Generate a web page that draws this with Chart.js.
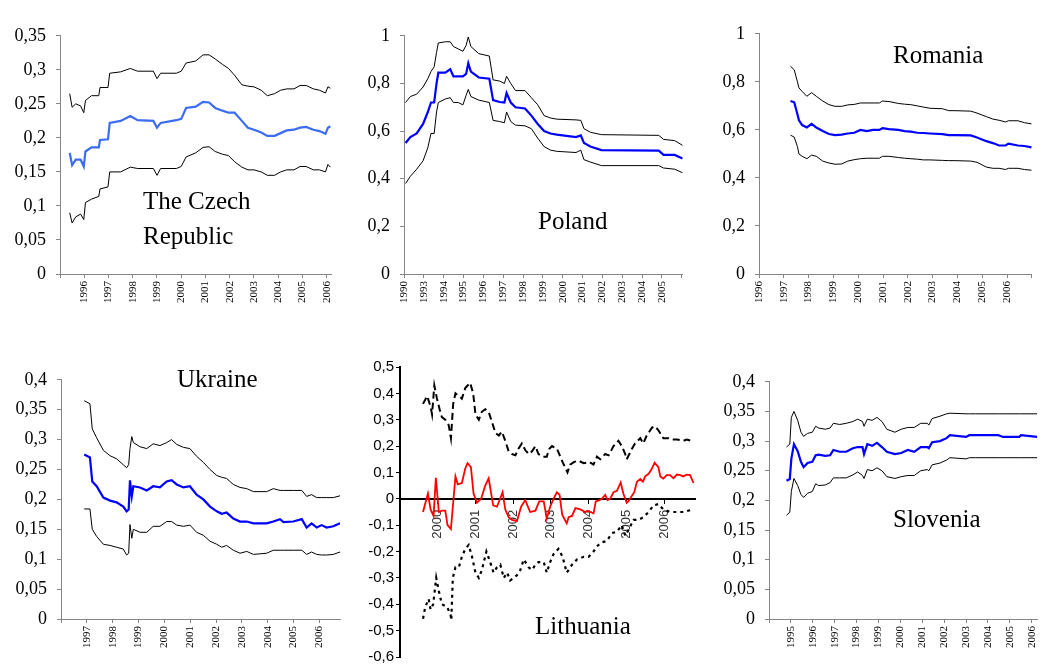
<!DOCTYPE html>
<html>
<head>
<meta charset="utf-8">
<script src="https://cdn.jsdelivr.net/npm/chart.js@4.4.1/dist/chart.umd.min.js"></script>
<style>
  body { margin: 0; background: #fff; }
  #wrap { position: relative; width: 1048px; height: 669px; overflow: hidden; }
  canvas { position: absolute; }
  .ttl { position: absolute; font-family: 'Liberation Serif', 'Times New Roman', serif; font-size: 25px; line-height: 25px; color: #000; white-space: nowrap; }
</style>
</head>
<body>
<div id="wrap">
  <canvas id="cz" width="343" height="319" style="left:0px;top:15px"></canvas>
  <canvas id="pl" width="348" height="319" style="left:350px;top:15px"></canvas>
  <canvas id="ro" width="348" height="321" style="left:700px;top:13px"></canvas>
  <canvas id="ua" width="345" height="308" style="left:0px;top:359px"></canvas>
  <canvas id="lt" width="350" height="312" style="left:350px;top:356px"></canvas>
  <canvas id="si" width="348" height="306" style="left:700px;top:361px"></canvas>

  <div class="ttl" style="left:143px;top:183px;line-height:35px">The Czech<br>Republic</div>
  <div class="ttl" style="left:538px;top:208px">Poland</div>
  <div class="ttl" style="left:893px;top:42px">Romania</div>
  <div class="ttl" style="left:177px;top:366px">Ukraine</div>
  <div class="ttl" style="left:535px;top:613px">Lithuania</div>
  <div class="ttl" style="left:893px;top:506px">Slovenia</div>
</div>
<script>
// ---- The Czech Republic ----
let czDates = [1995.4, 1995.5, 1995.65, 1995.85, 1995.98, 1996.05, 1996.3, 1996.6, 1996.65, 1996.98, 1997.05, 1997.5, 1997.9, 1998.2, 1998.85, 1999.0, 1999.15, 1999.8, 2000.0, 2000.2, 2000.6, 2000.9, 2001.15, 2001.4, 2001.7, 2001.95, 2002.2, 2002.5, 2002.75, 2003.0, 2003.3, 2003.55, 2003.85, 2004.1, 2004.35, 2004.65, 2004.9, 2005.15, 2005.45, 2005.7, 2005.95, 2006.05, 2006.15];
let czMid = [0.178, 0.16, 0.168, 0.168, 0.158, 0.18, 0.186, 0.186, 0.197, 0.198, 0.222, 0.225, 0.232, 0.226, 0.225, 0.215, 0.222, 0.226, 0.228, 0.244, 0.246, 0.253, 0.252, 0.244, 0.24, 0.237, 0.237, 0.225, 0.215, 0.212, 0.208, 0.203, 0.203, 0.207, 0.211, 0.212, 0.215, 0.216, 0.212, 0.21, 0.206, 0.215, 0.217];
let czUpper = [0.265, 0.245, 0.25, 0.247, 0.237, 0.255, 0.262, 0.262, 0.274, 0.274, 0.295, 0.297, 0.302, 0.298, 0.298, 0.287, 0.295, 0.295, 0.298, 0.31, 0.313, 0.322, 0.322, 0.316, 0.308, 0.302, 0.292, 0.278, 0.276, 0.275, 0.27, 0.262, 0.265, 0.27, 0.272, 0.272, 0.277, 0.277, 0.272, 0.27, 0.266, 0.275, 0.273];
let czLower = [0.09, 0.075, 0.084, 0.088, 0.08, 0.105, 0.11, 0.114, 0.125, 0.128, 0.15, 0.15, 0.157, 0.155, 0.155, 0.145, 0.155, 0.155, 0.158, 0.172, 0.178, 0.186, 0.187, 0.18, 0.176, 0.174, 0.165, 0.157, 0.153, 0.153, 0.15, 0.145, 0.145, 0.15, 0.153, 0.153, 0.158, 0.158, 0.153, 0.153, 0.15, 0.161, 0.157];
let czTicks = [1995, 1996, 1997, 1998, 1999, 2000, 2001, 2002, 2003, 2004, 2005, 2006];
let czTickLabels = ['', '1996', '1997', '1998', '1999', '2000', '2001', '2002', '2003', '2004', '2005', '2006'];

// ---- Poland (category axis positions, first label reads 1990) ----
let plDates = [1992.08, 1992.32, 1992.64, 1992.96, 1993.2, 1993.36, 1993.52, 1993.64, 1993.73, 1994.09, 1994.33, 1994.49, 1994.73, 1994.97, 1995.13, 1995.24, 1995.37, 1995.77, 1996.3, 1996.49, 1996.82, 1997.06, 1997.17, 1997.38, 1997.62, 1998.1, 1998.42, 1998.74, 1999.06, 1999.38, 1999.7, 2000.67, 2000.91, 2001.07, 2001.39, 2001.95, 2004.84, 2005.08, 2005.64, 2006.04];
let plMid = [0.55, 0.575, 0.59, 0.63, 0.68, 0.72, 0.72, 0.8, 0.845, 0.845, 0.86, 0.83, 0.83, 0.83, 0.84, 0.885, 0.85, 0.825, 0.82, 0.73, 0.722, 0.72, 0.76, 0.72, 0.7, 0.695, 0.665, 0.63, 0.6, 0.59, 0.585, 0.575, 0.582, 0.55, 0.535, 0.52, 0.518, 0.5, 0.5, 0.485];
let plUpper = [0.72, 0.745, 0.755, 0.785, 0.82, 0.85, 0.87, 0.93, 0.97, 0.975, 0.975, 0.955, 0.945, 0.935, 0.96, 0.995, 0.955, 0.925, 0.915, 0.815, 0.81, 0.8, 0.83, 0.8, 0.77, 0.77, 0.74, 0.71, 0.665, 0.655, 0.65, 0.647, 0.645, 0.61, 0.595, 0.585, 0.582, 0.565, 0.56, 0.54];
let plLower = [0.38, 0.41, 0.44, 0.475, 0.53, 0.59, 0.59, 0.68, 0.72, 0.735, 0.74, 0.72, 0.72, 0.71, 0.75, 0.775, 0.745, 0.73, 0.72, 0.645, 0.64, 0.635, 0.68, 0.64, 0.625, 0.622, 0.61, 0.57, 0.535, 0.52, 0.515, 0.51, 0.52, 0.48, 0.47, 0.455, 0.455, 0.445, 0.44, 0.425];
let plTicks = [1992, 1993, 1994, 1995, 1996, 1997, 1998, 1999, 2000, 2001, 2002, 2003, 2004, 2005, 2006];
let plTickLabels = ['1990', '1993', '1994', '1995', '1996', '1997', '1998', '1999', '2000', '2001', '2002', '2003', '2004', '2005', ''];

// ---- Romania ----
let roDates = [1997.27, 1997.42, 1997.55, 1997.61, 1997.74, 1997.93, 1998.12, 1998.31, 1998.57, 1998.82, 1999.07, 1999.33, 1999.58, 1999.84, 2000.09, 2000.35, 2000.6, 2000.85, 2000.98, 2001.24, 2001.62, 2001.87, 2002.12, 2002.38, 2002.63, 2002.89, 2003.4, 2003.65, 2003.9, 2004.54, 2004.79, 2005.17, 2005.43, 2005.68, 2005.94, 2006.06, 2006.44, 2006.7, 2006.99];
let roMid = [0.72, 0.715, 0.665, 0.64, 0.62, 0.61, 0.625, 0.61, 0.595, 0.583, 0.578, 0.58, 0.585, 0.588, 0.6, 0.595, 0.6, 0.6, 0.607, 0.603, 0.6, 0.595, 0.593, 0.588, 0.587, 0.585, 0.582, 0.578, 0.578, 0.577, 0.568, 0.553, 0.545, 0.535, 0.535, 0.543, 0.535, 0.533, 0.527];
let roUpper = [0.865, 0.85, 0.8, 0.775, 0.76, 0.74, 0.755, 0.74, 0.72, 0.705, 0.698, 0.698, 0.704, 0.706, 0.712, 0.712, 0.712, 0.712, 0.72, 0.718, 0.71, 0.707, 0.705, 0.7, 0.695, 0.69, 0.688, 0.68, 0.68, 0.678, 0.67, 0.655, 0.645, 0.64, 0.633, 0.638, 0.638, 0.63, 0.625];
let roLower = [0.578, 0.57, 0.53, 0.5, 0.49, 0.48, 0.495, 0.49, 0.47, 0.462, 0.457, 0.458, 0.47, 0.476, 0.48, 0.482, 0.482, 0.482, 0.49, 0.49, 0.485, 0.482, 0.48, 0.478, 0.475, 0.475, 0.473, 0.472, 0.472, 0.47, 0.465, 0.445, 0.44, 0.44, 0.435, 0.44, 0.44, 0.435, 0.432];
let roTicks = [1996, 1997, 1998, 1999, 2000, 2001, 2002, 2003, 2004, 2005, 2006, 2007];
let roTickLabels = ['1996', '1997', '1998', '1999', '2000', '2001', '2002', '2003', '2004', '2005', '2006', ''];

// ---- Ukraine ----
let uaDates = [1996.9, 1997.12, 1997.21, 1997.38, 1997.64, 1997.9, 1998.15, 1998.41, 1998.54, 1998.62, 1998.67, 1998.74, 1998.8, 1999.06, 1999.32, 1999.57, 1999.83, 2000.09, 2000.28, 2000.48, 2000.74, 2000.99, 2001.25, 2001.51, 2001.77, 2002.03, 2002.22, 2002.41, 2002.67, 2002.93, 2003.19, 2003.45, 2003.96, 2004.22, 2004.48, 2004.61, 2004.99, 2005.32, 2005.51, 2005.7, 2005.9, 2006.09, 2006.28, 2006.54, 2006.8];
let uaMid = [0.275, 0.27, 0.23, 0.222, 0.203, 0.198, 0.195, 0.188, 0.18, 0.183, 0.232, 0.205, 0.222, 0.22, 0.215, 0.222, 0.22, 0.23, 0.232, 0.225, 0.22, 0.222, 0.208, 0.2, 0.188, 0.18, 0.176, 0.178, 0.168, 0.163, 0.163, 0.16, 0.16, 0.163, 0.167, 0.162, 0.163, 0.167, 0.153, 0.16, 0.153, 0.157, 0.153, 0.155, 0.16];
let uaUpper = [0.365, 0.36, 0.318, 0.303, 0.282, 0.273, 0.268, 0.258, 0.253, 0.258, 0.285, 0.305, 0.295, 0.288, 0.285, 0.293, 0.29, 0.295, 0.3, 0.292, 0.287, 0.285, 0.272, 0.262, 0.25, 0.24, 0.237, 0.235, 0.225, 0.22, 0.218, 0.213, 0.213, 0.218, 0.215, 0.215, 0.215, 0.215, 0.205, 0.208, 0.203, 0.203, 0.203, 0.203, 0.206];
let uaLower = [0.184, 0.184, 0.15, 0.138, 0.125, 0.123, 0.12, 0.117, 0.107, 0.11, 0.158, 0.135, 0.15, 0.145, 0.145, 0.155, 0.155, 0.163, 0.163, 0.157, 0.155, 0.157, 0.145, 0.14, 0.13, 0.125, 0.12, 0.123, 0.115, 0.11, 0.113, 0.108, 0.11, 0.115, 0.115, 0.115, 0.115, 0.115, 0.108, 0.112, 0.108, 0.107, 0.107, 0.108, 0.112];
let uaTicks = [1996, 1997, 1998, 1999, 2000, 2001, 2002, 2003, 2004, 2005, 2006];
let uaTickLabels = ['', '1997', '1998', '1999', '2000', '2001', '2002', '2003', '2004', '2005', '2006'];

// ---- Lithuania ----
let ltRedDates = [1999.61, 1999.74, 1999.81, 1999.89, 1999.95, 2000.03, 2000.11, 2000.2, 2000.26, 2000.35, 2000.47, 2000.53, 2000.64, 2000.73, 2000.79, 2000.88, 2000.95, 2001.04, 2001.15, 2001.26, 2001.35, 2001.47, 2001.57, 2001.72, 2001.79, 2001.88, 2001.97, 2002.1, 2002.21, 2002.32, 2002.45, 2002.59, 2002.69, 2002.81, 2002.89, 2002.98, 2003.07, 2003.16, 2003.23, 2003.3, 2003.42, 2003.47, 2003.56, 2003.65, 2003.78, 2003.91, 2003.97, 2004.04, 2004.13, 2004.19, 2004.29, 2004.35, 2004.44, 2004.5, 2004.57, 2004.66, 2004.75, 2004.85, 2004.92, 2005.01, 2005.05, 2005.14, 2005.21, 2005.28, 2005.37, 2005.44, 2005.5, 2005.59, 2005.66, 2005.75, 2005.85, 2005.9, 2005.98, 2006.07, 2006.16, 2006.25, 2006.34, 2006.43, 2006.51, 2006.6, 2006.69, 2006.78];
let ltRed = [-0.05, 0.02, -0.04, -0.065, 0.08, -0.05, -0.045, -0.045, -0.1, -0.115, 0.085, 0.055, 0.06, 0.115, 0.135, 0.12, 0.02, -0.015, 0.0, 0.05, 0.078, -0.025, -0.03, 0.025, -0.04, -0.07, -0.08, -0.085, -0.03, -0.005, -0.05, -0.045, -0.01, -0.01, -0.075, -0.03, 0.0, 0.025, 0.015, -0.06, -0.093, -0.07, -0.065, -0.035, -0.04, -0.05, -0.045, -0.05, -0.055, -0.01, -0.005, 0.0, 0.015, -0.005, 0.0, 0.025, 0.03, 0.062, 0.02, -0.015, -0.01, 0.01, 0.025, 0.065, 0.075, 0.065, 0.085, 0.095, 0.11, 0.137, 0.12, 0.085, 0.077, 0.09, 0.09, 0.078, 0.092, 0.09, 0.085, 0.092, 0.09, 0.06];
let ltUpDates = [1999.61, 1999.72, 1999.81, 1999.85, 1999.91, 1999.98, 2000.05, 2000.11, 2000.2, 2000.29, 2000.35, 2000.41, 2000.47, 2000.56, 2000.64, 2000.73, 2000.86, 2000.94, 2001.0, 2001.09, 2001.17, 2001.26, 2001.35, 2001.44, 2001.53, 2001.62, 2001.7, 2001.79, 2001.88, 2001.97, 2002.06, 2002.14, 2002.23, 2002.32, 2002.41, 2002.5, 2002.59, 2002.67, 2002.79, 2002.89, 2002.96, 2003.03, 2003.16, 2003.25, 2003.34, 2003.44, 2003.51, 2003.62, 2003.73, 2003.87, 2004.02, 2004.13, 2004.22, 2004.31, 2004.44, 2004.53, 2004.66, 2004.79, 2004.88, 2004.97, 2005.01, 2005.15, 2005.23, 2005.37, 2005.45, 2005.54, 2005.68, 2005.76, 2005.85, 2005.98, 2006.12, 2006.2, 2006.34, 2006.51, 2006.6, 2006.73, 2006.78];
let ltUp = [0.36, 0.39, 0.35, 0.32, 0.43, 0.38, 0.34, 0.31, 0.3, 0.28, 0.23, 0.36, 0.4, 0.39, 0.38, 0.42, 0.44, 0.4, 0.32, 0.3, 0.33, 0.34, 0.33, 0.29, 0.25, 0.24, 0.255, 0.22, 0.18, 0.17, 0.165, 0.19, 0.21, 0.185, 0.17, 0.18, 0.2, 0.17, 0.16, 0.16, 0.19, 0.2, 0.19, 0.16, 0.13, 0.1, 0.13, 0.14, 0.145, 0.135, 0.14, 0.13, 0.16, 0.15, 0.17, 0.165, 0.2, 0.22, 0.2, 0.17, 0.15, 0.19, 0.21, 0.23, 0.21, 0.24, 0.27, 0.275, 0.26, 0.23, 0.23, 0.225, 0.225, 0.22, 0.225, 0.22, 0.215];
let ltLowDates = [1999.61, 1999.67, 1999.76, 1999.81, 1999.88, 1999.96, 2000.03, 2000.11, 2000.25, 2000.34, 2000.36, 2000.4, 2000.47, 2000.56, 2000.64, 2000.73, 2000.82, 2000.91, 2001.0, 2001.09, 2001.17, 2001.29, 2001.39, 2001.48, 2001.57, 2001.66, 2001.75, 2001.84, 2001.92, 2002.01, 2002.1, 2002.19, 2002.28, 2002.41, 2002.5, 2002.59, 2002.67, 2002.81, 2002.89, 2002.98, 2003.07, 2003.2, 2003.31, 2003.42, 2003.56, 2003.69, 2003.87, 2004.0, 2004.13, 2004.22, 2004.35, 2004.48, 2004.62, 2004.75, 2004.88, 2004.97, 2005.05, 2005.19, 2005.32, 2005.45, 2005.59, 2005.72, 2005.85, 2005.98, 2006.16, 2006.34, 2006.51, 2006.78];
let ltLow = [-0.455, -0.41, -0.38, -0.42, -0.4, -0.3, -0.35, -0.4, -0.41, -0.44, -0.46, -0.3, -0.26, -0.26, -0.22, -0.19, -0.175, -0.22, -0.28, -0.3, -0.27, -0.2, -0.24, -0.28, -0.26, -0.25, -0.3, -0.28, -0.31, -0.3, -0.29, -0.27, -0.23, -0.26, -0.27, -0.25, -0.24, -0.24, -0.28, -0.24, -0.21, -0.19, -0.22, -0.28, -0.25, -0.23, -0.22, -0.22, -0.2, -0.18, -0.165, -0.16, -0.13, -0.125, -0.1, -0.14, -0.12, -0.08, -0.08, -0.07, -0.05, -0.025, -0.02, -0.04, -0.05, -0.05, -0.05, -0.04];
let ltTicks = [1999, 2000, 2001, 2002, 2003, 2004, 2005, 2006];
let ltTickLabels = ['', '2000', '2001', '2002', '2003', '2004', '2005', '2006'];

// ---- Slovenia ----
let slDates = [1994.8, 1994.95, 1995.02, 1995.14, 1995.31, 1995.46, 1995.58, 1995.76, 1995.98, 1996.13, 1996.27, 1996.57, 1996.79, 1996.94, 1997.23, 1997.53, 1997.83, 1998.05, 1998.27, 1998.34, 1998.49, 1998.71, 1998.93, 1999.16, 1999.38, 1999.75, 2000.04, 2000.34, 2000.63, 2000.93, 2001.23, 2001.3, 2001.45, 2001.81, 2002.11, 2002.26, 2003.0, 2003.15, 2003.44, 2004.47, 2004.69, 2005.43, 2005.51, 2006.25];
let slMid = [0.233, 0.236, 0.27, 0.295, 0.283, 0.265, 0.256, 0.263, 0.265, 0.276, 0.277, 0.275, 0.276, 0.285, 0.282, 0.282, 0.288, 0.29, 0.29, 0.278, 0.295, 0.292, 0.297, 0.29, 0.282, 0.278, 0.28, 0.285, 0.282, 0.29, 0.29, 0.288, 0.298, 0.3, 0.305, 0.31, 0.307, 0.31, 0.31, 0.31, 0.307, 0.307, 0.31, 0.307];
let slUpper = [0.29, 0.295, 0.34, 0.35, 0.335, 0.315, 0.308, 0.313, 0.315, 0.325, 0.322, 0.32, 0.322, 0.33, 0.328, 0.33, 0.333, 0.337, 0.333, 0.325, 0.337, 0.335, 0.34, 0.333, 0.32, 0.315, 0.32, 0.323, 0.323, 0.33, 0.33, 0.327, 0.338, 0.342, 0.346, 0.347, 0.346, 0.346, 0.346, 0.346, 0.346, 0.346, 0.346, 0.346];
let slLower = [0.175, 0.18, 0.215, 0.237, 0.225, 0.21, 0.205, 0.212, 0.215, 0.228, 0.225, 0.226, 0.23, 0.238, 0.238, 0.238, 0.243, 0.248, 0.242, 0.237, 0.252, 0.25, 0.255, 0.25, 0.24, 0.237, 0.24, 0.242, 0.242, 0.25, 0.252, 0.25, 0.26, 0.263, 0.268, 0.272, 0.27, 0.272, 0.272, 0.272, 0.272, 0.272, 0.272, 0.272];
let slTicks = [1994, 1995, 1996, 1997, 1998, 1999, 2000, 2001, 2002, 2003, 2004, 2005, 2006];
let slTickLabels = ['', '1995', '1996', '1997', '1998', '1999', '2000', '2001', '2002', '2003', '2004', '2005', '2006'];

let serif = "'Liberation Serif', 'Times New Roman', serif";
let sans = "'Liberation Sans', Arial, sans-serif";
let axisGrey = '#868686';

function pts(xs, ys) {
    return xs.map((x, i) => ({ x: x, y: ys[i] }));
}

function comma(v) {
    return Number(v.toFixed(2)).toString().replace('.', ',');
}

function band(xs, ys) {
    return { data: pts(xs, ys), borderColor: '#000', borderWidth: 1 };
}

function panel(id, o) {
    let sansAxis = o.sans === true;
    new Chart(document.getElementById(id).getContext('2d'), {
        type: 'line',
        data: {
            datasets: o.datasets.map(d => Object.assign({ pointRadius: 0, tension: 0, fill: false }, d))
        },
        options: {
            responsive: false,
            animation: false,
            events: [],
            layout: { padding: { top: o.padTop, right: o.padRight, left: 0, bottom: o.padBottom || 0 } },
            plugins: { legend: { display: false }, tooltip: { enabled: false } },
            scales: {
                x: {
                    type: 'linear',
                    min: o.xMin,
                    max: o.xMax,
                    position: o.xPos || 'bottom',
                    afterBuildTicks: (s) => { s.ticks = o.ticks.map(v => ({ value: v })); },
                    afterFit: (s) => { if (o.xH) s.height = o.xH; },
                    grid: { drawOnChartArea: false, tickLength: 4, color: sansAxis ? '#000' : axisGrey },
                    border: { color: sansAxis ? '#000' : axisGrey, width: sansAxis ? 2 : 1 },
                    ticks: {
                        autoSkip: false,
                        minRotation: 90,
                        maxRotation: 90,
                        padding: sansAxis ? 7 : 3,
                        color: sansAxis ? '#333' : '#000',
                        font: { family: sansAxis ? sans : serif, size: sansAxis ? 13 : 11 },
                        callback: (v, i) => o.tickLabels[i]
                    }
                },
                y: {
                    min: o.yMin,
                    max: o.yMax,
                    afterFit: (s) => { s.width = o.yW; },
                    grid: { drawOnChartArea: false, tickLength: 4, color: sansAxis ? '#000' : axisGrey },
                    border: { color: sansAxis ? '#000' : axisGrey, width: sansAxis ? 2 : 1 },
                    ticks: {
                        stepSize: o.yStep,
                        padding: sansAxis ? 2 : 10,
                        color: '#000',
                        font: { family: sansAxis ? sans : serif, size: sansAxis ? 15 : 18 },
                        callback: (v) => comma(v)
                    }
                }
            }
        }
    });
}

panel('cz', {
    datasets: [band(czDates, czUpper), band(czDates, czLower),
        { data: pts(czDates, czMid), borderColor: '#3a6cf4', borderWidth: 2.2 }],
    xMin: 1995, xMax: 2006.2, ticks: czTicks, tickLabels: czTickLabels,
    yMin: 0, yMax: 0.35, yStep: 0.05, yW: 60, padTop: 12, padRight: 5, xH: 60
});

panel('pl', {
    datasets: [band(plDates, plUpper), band(plDates, plLower),
        { data: pts(plDates, plMid), borderColor: '#0000ff', borderWidth: 2.2 }],
    xMin: 1992, xMax: 2006.05, ticks: plTicks, tickLabels: plTickLabels,
    yMin: 0, yMax: 1, yStep: 0.2, yW: 54, padTop: 12, padRight: 3, xH: 60
});

panel('ro', {
    datasets: [band(roDates, roUpper), band(roDates, roLower),
        { data: pts(roDates, roMid), borderColor: '#0000ff', borderWidth: 2.2 }],
    xMin: 1996, xMax: 2007, ticks: roTicks, tickLabels: roTickLabels,
    yMin: 0, yMax: 1, yStep: 0.2, yW: 59, padTop: 12, padRight: 2, xH: 60
});

panel('ua', {
    datasets: [band(uaDates, uaUpper), band(uaDates, uaLower),
        { data: pts(uaDates, uaMid), borderColor: '#0000ff', borderWidth: 2.2 }],
    xMin: 1996, xMax: 2006.8, ticks: uaTicks, tickLabels: uaTickLabels,
    yMin: 0, yMax: 0.4, yStep: 0.05, yW: 61, padTop: 12, padRight: 5, xH: 48
});

panel('lt', {
    sans: true,
    datasets: [
        { data: pts(ltUpDates, ltUp), borderColor: '#000', borderWidth: 2, borderDash: [7, 4] },
        { data: pts(ltLowDates, ltLow), borderColor: '#000', borderWidth: 2.2, borderDash: [3, 4] },
        { data: pts(ltRedDates, ltRed), borderColor: '#ff0000', borderWidth: 1.8 }
    ],
    xMin: 1999, xMax: 2006.82, xPos: { y: 0 }, ticks: ltTicks, tickLabels: ltTickLabels,
    yMin: -0.6, yMax: 0.5, yStep: 0.1, yW: 50, padTop: 10, padRight: 5, padBottom: 5
});

panel('si', {
    datasets: [band(slDates, slUpper), band(slDates, slLower),
        { data: pts(slDates, slMid), borderColor: '#0000ff', borderWidth: 2.2 }],
    xMin: 1994, xMax: 2006.25, ticks: slTicks, tickLabels: slTickLabels,
    yMin: 0, yMax: 0.4, yStep: 0.05, yW: 69, padTop: 12, padRight: 2, xH: 48
});
</script>
</body>
</html>
